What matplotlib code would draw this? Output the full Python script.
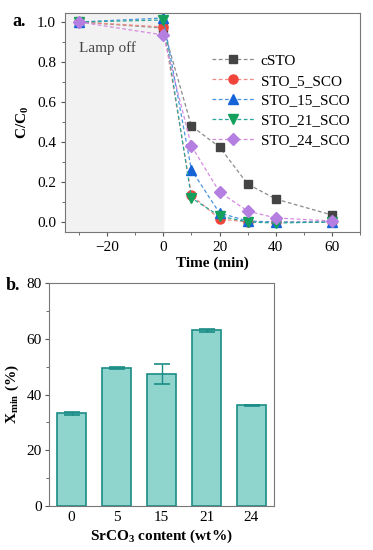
import numpy as np
import matplotlib
matplotlib.use('Agg')
from matplotlib import pyplot as plt

plt.rcParams['font.family'] = ['Liberation Serif', 'DejaVu Serif']
plt.rcParams['mathtext.fontset'] = 'custom'
plt.rcParams['mathtext.rm'] = 'Liberation Serif'
plt.rcParams['mathtext.bf'] = 'Liberation Serif:bold'

# Panel a: normalised concentration vs time
time_min = [-30, 0, 10, 20, 30, 40, 60]
sample_names = ['cSTO', 'STO_5_SCO', 'STO_15_SCO', 'STO_21_SCO', 'STO_24_SCO']
c_sto = [1.0, 0.97, 0.48, 0.375, 0.19, 0.115, 0.035]
sto_5 = [1.0, 0.975, 0.135, 0.015, 0.0, 0.0, 0.0]
sto_15 = [1.0, 1.02, 0.26, 0.045, 0.005, 0.0, 0.0]
sto_21 = [1.0, 1.01, 0.12, 0.03, 0.0, -0.005, 0.0]
sto_24 = [1.0, 0.935, 0.38, 0.15, 0.055, 0.02, 0.005]

# Panel b: X_min vs SrCO3 content
content_labels = ['0', '5', '15', '21', '24']
xmin_vals = [33.3, 49.5, 47.5, 63.0, 36.2]
xmin_err = [0.5, 0.5, 3.6, 0.6, 0.2]

fig = plt.figure(figsize=(3.73, 5.5), dpi=100)

# ---- panel a ----
ax = fig.add_axes([65/373, 1-232/550, 295/373, 219/550])
ax.axvspan(-35, 0, color='#f2f2f2', zorder=0)
series = [c_sto, sto_5, sto_15, sto_21, sto_24]
markers = ['s', 'o', '^', 'v', 'D']
mcolors = ['#444444', '#f0433a', '#1464d8', '#14a05c', '#b47fe0']
lcolors = ['#8a8a8a', '#f08a84', '#4a94e0', '#2aa59a', '#d58ae0']
msizes = [5.5, 6.5, 7, 7, 6]
for y, name, m, mc, lc, ms in zip(series, sample_names, markers, mcolors, lcolors, msizes):
    ax.plot(time_min, y, linestyle=(0, (3, 2)), linewidth=0.9, color=lc,
            marker=m, markersize=ms, markerfacecolor=mc, markeredgecolor=mc,
            label=name)
ax.set_xlim(-35, 70)
ax.set_ylim(-0.05, 1.045)
ax.set_xticks([-20, 0, 20, 40, 60])
ax.set_xticks([-30, -10, 10, 30, 50, 70], minor=True)
ax.set_yticks([0.0, 0.2, 0.4, 0.6, 0.8, 1.0])
ax.set_yticks([0.1, 0.3, 0.5, 0.7, 0.9], minor=True)
ax.set_yticklabels(['0.0', '0.2', '0.4', '0.6', '0.8', '1.0'])
ax.tick_params(labelsize=11, length=3, width=0.8, color='#555555')
ax.tick_params(which='minor', length=2, color='#555555')
ax.set_xlabel('Time (min)', fontsize=11, fontweight='bold', labelpad=2)
ax.set_ylabel(r'$\mathbf{C/C_0}$', fontsize=11, labelpad=4)
for s in ax.spines.values():
    s.set_color('#777777')
ax.text(-30, 0.87, 'Lamp off', fontsize=11, color='#444444', va='center')
ax.legend(loc='upper right', bbox_to_anchor=(1.01, 0.875), frameon=False,
          fontsize=11, handlelength=2.8, labelspacing=0.4, handletextpad=0.4)
fig.text(12/373, 1-22/550, 'a.', fontsize=13, fontweight='bold', va='center', ha='left')

# ---- panel b ----
bx = fig.add_axes([49/373, 1-506/550, 225/373, 223/550])
pos = np.arange(len(content_labels))
bx.bar(pos, xmin_vals, width=0.66, color='#90d4ce', edgecolor='#1b8c86', linewidth=1.2)
bx.errorbar(pos, xmin_vals, yerr=xmin_err, fmt='none', ecolor='#1b8c86',
            elinewidth=1.0, capsize=5.5, capthick=1.2)
bx.set_xlim(-0.5, 4.5)
bx.set_ylim(0, 80)
bx.set_xticks(pos)
bx.set_xticklabels(content_labels)
bx.set_yticks([0, 20, 40, 60, 80])
bx.set_yticks([10, 30, 50, 70], minor=True)
bx.tick_params(labelsize=11, length=3, width=0.8, color='#555555')
bx.tick_params(which='minor', length=2, color='#555555')
bx.tick_params(axis='y', pad=2)
bx.tick_params(axis='x', length=0)
bx.set_xlabel(r'$\mathbf{SrCO_3}$ content (wt%)', fontsize=11, fontweight='bold', labelpad=3)
bx.set_ylabel(r'$\mathbf{X_{min}}$ (%)', fontsize=11, fontweight='bold', labelpad=4)
for s in bx.spines.values():
    s.set_color('#777777')
fig.text(6/373, 1-285/550, 'b.', fontsize=13, fontweight='bold', va='center', ha='left')

plt.savefig('out.png', dpi=100)
